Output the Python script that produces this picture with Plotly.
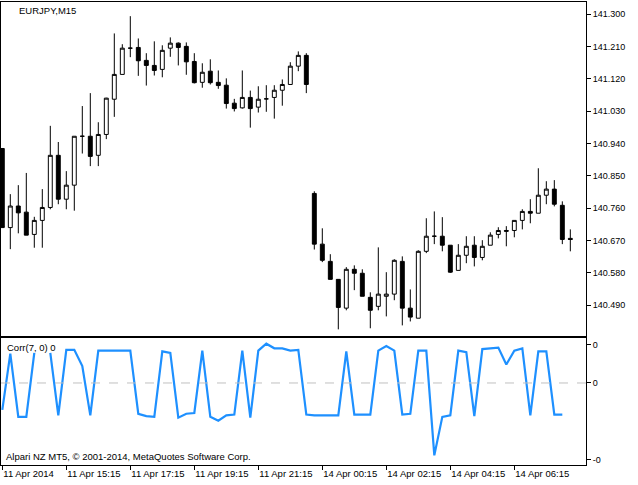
import plotly.graph_objects as go

# ---------------- data ----------------
bar_index = list(range(72))

open_ = [140.926, 140.706, 140.766, 140.749, 140.687, 140.726, 140.762, 140.907, 140.785, 140.824,
         140.960, 140.960, 140.907, 140.965, 141.063, 141.132, 141.205, 141.207, 141.171, 141.157,
         141.146, 141.205, 141.219, 141.210, 141.168, 141.110, 141.141, 141.110, 141.102, 141.052,
         141.039, 141.068, 141.041, 141.064, 141.068, 141.088, 141.104, 141.155, 141.185, 140.801,
         140.660, 140.612, 140.562, 140.482, 140.590, 140.579, 140.512, 140.487, 140.515, 140.521,
         140.612, 140.482, 140.454, 140.640, 140.682, 140.682, 140.657, 140.587, 140.629, 140.657,
         140.623, 140.657, 140.687, 140.698, 140.698, 140.726, 140.751, 140.746, 140.796, 140.813,
         140.768, 140.676]

high = [140.926, 140.799, 140.824, 140.858, 140.736, 140.813, 140.989, 140.944, 140.863, 140.960,
        141.044, 141.080, 140.999, 141.067, 141.246, 141.216, 141.294, 141.232, 141.191, 141.224,
        141.213, 141.235, 141.221, 141.221, 141.191, 141.163, 141.174, 141.143, 141.121, 141.064,
        141.143, 141.087, 141.099, 141.102, 141.102, 141.118, 141.166, 141.196, 141.191, 140.807,
        140.704, 140.632, 140.562, 140.596, 140.601, 140.590, 140.526, 140.651, 140.582, 140.618,
        140.626, 140.534, 140.643, 140.732, 140.751, 140.735, 140.657, 140.660, 140.682, 140.682,
        140.671, 140.693, 140.707, 140.710, 140.726, 140.757, 140.785, 140.871, 140.835, 140.838,
        140.779, 140.701]

low = [140.705, 140.646, 140.690, 140.685, 140.650, 140.650, 140.757, 140.771, 140.757, 140.753,
       140.912, 140.877, 140.877, 140.952, 141.014, 141.132, 141.180, 141.128, 141.101, 141.129,
       141.124, 141.181, 141.157, 141.131, 141.107, 141.095, 141.104, 141.092, 141.037, 141.029,
       141.037, 140.984, 141.026, 141.028, 141.009, 141.045, 141.104, 141.141, 141.080, 140.645,
       140.610, 140.562, 140.423, 140.476, 140.532, 140.515, 140.426, 140.476, 140.459, 140.504,
       140.434, 140.445, 140.454, 140.635, 140.660, 140.640, 140.580, 140.587, 140.607, 140.598,
       140.615, 140.657, 140.676, 140.654, 140.679, 140.701, 140.718, 140.746, 140.771, 140.765,
       140.660, 140.640]

close = [140.706, 140.766, 140.747, 140.685, 140.726, 140.762, 140.907, 140.785, 140.824, 140.960,
         140.960, 140.904, 140.965, 141.066, 141.132, 141.205, 141.205, 141.170, 141.157, 141.143,
         141.199, 141.219, 141.207, 141.167, 141.109, 141.138, 141.109, 141.101, 141.051, 141.037,
         141.068, 141.037, 141.063, 141.064, 141.088, 141.104, 141.155, 141.185, 141.104, 140.660,
         140.615, 140.562, 140.484, 140.590, 140.579, 140.515, 140.476, 140.521, 140.521, 140.615,
         140.482, 140.457, 140.640, 140.682, 140.682, 140.657, 140.582, 140.629, 140.654, 140.623,
         140.654, 140.685, 140.698, 140.696, 140.726, 140.751, 140.746, 140.796, 140.813, 140.771,
         140.673, 140.673]

corr = [-0.35, 0.38, -0.44, -0.44, 0.39, None, 0.39, -0.42, 0.43, 0.43,
        0.22, -0.42, 0.42, 0.42, 0.42, 0.42, 0.42, -0.40, -0.43, -0.44,
        0.41, 0.39, -0.45, -0.40, -0.39, 0.42, -0.44, -0.49, -0.42, -0.41,
        0.42, -0.45, 0.42, 0.51, 0.45, 0.45, 0.42, 0.43, -0.41, -0.42,
        -0.42, -0.42, -0.42, 0.41, -0.41, -0.41, -0.41, 0.42, 0.48, 0.42,
        -0.41, -0.40, 0.42, 0.42, -0.94, -0.44, -0.42, 0.42, 0.40, -0.43,
        0.44, 0.45, 0.46, 0.24, 0.42, 0.45, -0.42, 0.41, 0.41, -0.41,
        -0.41, None]

price_ticks = [141.300, 141.210, 141.120, 141.030, 140.940, 140.850, 140.760, 140.670, 140.580, 140.490]
corr_tick_vals = [0.5, 0.0, -1.0]
corr_tick_text = ["0", "0", "-0"]
time_tick_pos = [0, 8, 16, 24, 32, 40, 48, 56, 64]
time_tick_text = ["11 Apr 2014", "11 Apr 15:15", "11 Apr 17:15", "11 Apr 19:15", "11 Apr 21:15",
                  "14 Apr 00:15", "14 Apr 02:15", "14 Apr 04:15", "14 Apr 06:15"]

# ---------------- figure ----------------
W, H = 638, 485
FONT = "Liberation Sans, Arial, sans-serif"

def px_x(p):
    return p / W

def px_y(p):
    return 1 - p / H

fig = go.Figure()

fig.add_trace(go.Candlestick(
    x=bar_index, open=open_, high=high, low=low, close=close,
    increasing=dict(line=dict(color="black", width=1), fillcolor="white"),
    decreasing=dict(line=dict(color="black", width=1), fillcolor="black"),
    whiskerwidth=0, showlegend=False, hoverinfo="skip",
    xaxis="x", yaxis="y",
))

fig.add_trace(go.Scatter(
    x=bar_index, y=corr, mode="lines",
    line=dict(color="#1E90FF", width=2.2),
    connectgaps=False, showlegend=False, hoverinfo="skip",
    xaxis="x2", yaxis="y2",
))

xrange = [-0.1625, 72.96]
x_dom = [px_x(1), px_x(586)]

fig.update_layout(
    width=W, height=H,
    margin=dict(l=0, r=0, t=0, b=0),
    paper_bgcolor="white", plot_bgcolor="white",
    font=dict(family=FONT, size=9, color="black"),
    showlegend=False,
    xaxis=dict(domain=x_dom, range=xrange, anchor="y", showgrid=False, zeroline=False,
               showline=True, linecolor="black", linewidth=1, mirror=True,
               showticklabels=False, ticks="", rangeslider=dict(visible=False),
               fixedrange=True),
    yaxis=dict(domain=[px_y(336), px_y(2)], range=[140.4045, 141.3334], side="right",
               anchor="x", showgrid=False, zeroline=False,
               showline=True, linecolor="black", linewidth=1, mirror=True,
               ticks="outside", ticklen=4, tickcolor="black",
               tickvals=price_ticks, ticktext=[f"{v:.3f}" for v in price_ticks],
               tickfont=dict(family=FONT, size=9)),
    xaxis2=dict(domain=x_dom, range=xrange, anchor="y2", showgrid=False, zeroline=False,
                showline=True, linecolor="black", linewidth=1, mirror=True,
                ticks="outside", ticklen=4, tickcolor="black",
                tickvals=time_tick_pos, ticktext=time_tick_text,
                ticklabelposition="outside right",
                tickfont=dict(family=FONT, size=9.5)),
    yaxis2=dict(domain=[px_y(465), px_y(338)], range=[-1.065, 0.584], side="right",
                anchor="x2", showgrid=False, zeroline=False,
                showline=True, linecolor="black", linewidth=1, mirror=True,
                ticks="outside", ticklen=4, tickcolor="black",
                tickvals=corr_tick_vals, ticktext=corr_tick_text,
                tickfont=dict(family=FONT, size=9)),
)

fig.add_shape(type="line", xref="x2 domain", yref="y2", x0=0, x1=1, y0=0, y1=0,
              line=dict(color="#C0C0C0", width=1, dash="dash"))

fig.add_annotation(text="EURJPY,M15", xref="paper", yref="paper",
                   x=px_x(17), y=px_y(10), xanchor="left", yanchor="middle",
                   showarrow=False, font=dict(family=FONT, size=9.5))
fig.add_annotation(text="Corr(7, 0) 0", xref="paper", yref="paper",
                   x=px_x(5), y=px_y(347), xanchor="left", yanchor="middle",
                   showarrow=False, font=dict(family=FONT, size=9.5))
fig.add_annotation(text="Alpari NZ MT5, © 2001-2014, MetaQuotes Software Corp.",
                   xref="paper", yref="paper",
                   x=px_x(4), y=px_y(456), xanchor="left", yanchor="middle",
                   showarrow=False, font=dict(family=FONT, size=9.5))

fig.write_html("out.html",
               config={"displayModeBar": False, "staticPlot": True},
               post_script="document.body.style.margin='0px';document.body.style.overflow='hidden';")
